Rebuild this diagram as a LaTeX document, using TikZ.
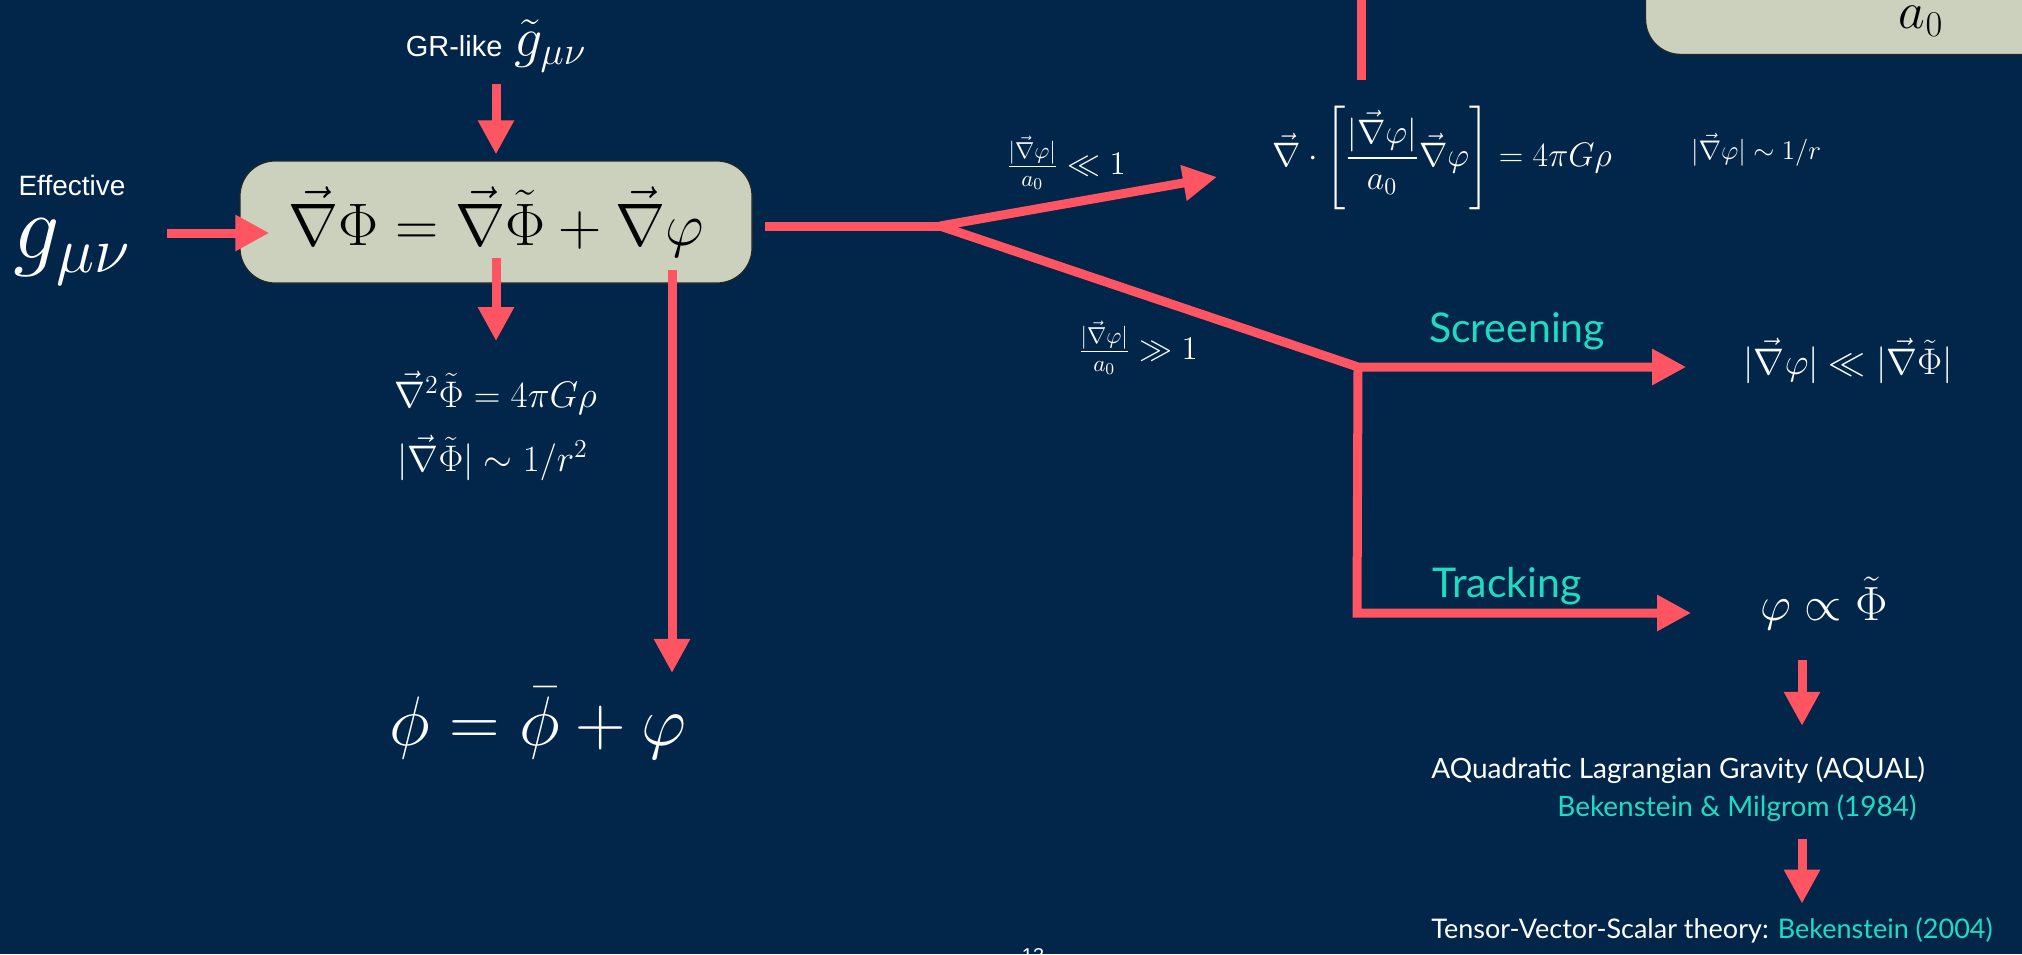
\documentclass[tikz,border=0pt]{standalone}
\usepackage{fix-cm}
\usepackage{amsmath}
\usepackage{fontspec}
\usetikzlibrary{arrows.meta,positioning}
\newfontfamily\helv{Liberation Sans}
\newfontfamily\avnx{Lato}
\definecolor{slidebg}{RGB}{1,38,73}
\definecolor{coral}{RGB}{255,85,98}
\definecolor{sage}{RGB}{204,209,190}
\definecolor{aqua}{RGB}{30,220,195}
\newcommand{\fs}[1]{\fontsize{#1}{#1}\selectfont}

\begin{document}
\begin{tikzpicture}[x=0.5pt,y=-0.5pt,
 arr/.style={draw=coral,line width=4.5pt,-{Triangle[length=17pt,width=17pt]}},
 wire/.style={draw=coral,line width=4.5pt},
 eq/.style={text=white,inner sep=2pt},
 lbl/.style={text=aqua,font=\avnx\fs{20.5pt},inner sep=2pt},
 ref/.style={text=white,font=\avnx\fs{14pt},inner sep=2pt},
 box/.style={draw=black!85,line width=0.6pt,fill=sage,rounded corners=17.5pt}]
\fill[slidebg] (0,0) rectangle (2022,954);
\useasboundingbox (0,0) rectangle (2022,954);
\clip (0,0) rectangle (2022,954);
% left part
\node[box,minimum width=256pt,minimum height=61pt,font=\fs{30pt}] (main) at (496,222)
 {$\vec\nabla\Phi=\vec\nabla\tilde\Phi+\vec\nabla\varphi$};
\node[eq,font=\fs{46pt}] (gmn) at (72,252) {$g_{\mu\nu}$};
\node[text=white,font=\helv\fs{14pt},inner sep=2pt,above=7pt of gmn] (eff) {Effective};
\node[eq] (grlike) at (496,46) {{\helv\fs{14.5pt}GR-like}\hspace{6pt}{\fs{28pt}$\tilde g_{\mu\nu}$}};
\node[eq,font=\fs{18.5pt},anchor=west] (poisson) at (390,393) {$\vec\nabla^2\tilde\Phi=4\pi G\rho$};
\node[eq,font=\fs{18.5pt},anchor=west] (newton) at (393,458) {$|\vec\nabla\tilde\Phi|\sim 1/r^2$};
\node[eq,font=\fs{35pt}] (phieq) at (538,723) {$\phi=\bar\phi+\varphi$};
\coordinate (inL) at ([shift={(30,11)}]main.west);
\coordinate (phidn) at ([shift={(176,-14)}]main.south);
\draw[arr,shorten <=3.5pt,shorten >=3pt] (grlike.south -| main.north) -- (main.north);
\draw[arr,shorten <=16pt] (gmn.east |- inL) -- (inL);
\draw[arr,shorten >=13pt] ([shift={(0,-26)}]main.south) -- (main.south |- poisson.north);
\draw[arr,shorten >=5pt] (phidn) -- (phidn |- phieq.north);
% right part
\node[box,anchor=south west,minimum width=250pt,minimum height=100pt] (lawbox) at (1645,55) {};
\node[font=\fs{26pt},inner sep=0pt] (azero) at (1921,21) {$a_0$};
\node[eq,font=\fs{17pt}] (diveq) at (1442,158)
 {$\vec\nabla\cdot\left[\dfrac{|\vec\nabla\varphi|}{a_0}\vec\nabla\varphi\right]=4\pi G\rho$};
\node[eq,font=\fs{13.5pt}] (deep) at (1756,150) {$|\vec\nabla\varphi|\sim 1/r$};
\node[eq,font=\fs{16.5pt}] (low) at (1066,163) {$\frac{|\vec\nabla\varphi|}{a_0}\ll 1$};
\node[eq,font=\fs{16.5pt}] (high) at (1138,348) {$\frac{|\vec\nabla\varphi|}{a_0}\gg 1$};
\node[lbl,anchor=base] (scrlbl) at (1517,342) {Screening};
\node[lbl,anchor=base] (trklbl) at (1507,597) {Tracking};
\node[eq,font=\fs{18.5pt}] (scrres) at (1848,361) {$|\vec\nabla\varphi|\ll|\vec\nabla\tilde\Phi|$};
\node[eq,font=\fs{24pt}] (propto) at (1824,603) {$\varphi\propto\tilde\Phi$};
\node[ref,anchor=base west] (aqual) at (1427,778) {AQuadratic Lagrangian Gravity (AQUAL)};
\node[ref,text=aqua,anchor=base east] (bm) at (1921,816) {Bekenstein \& Milgrom (1984)};
\node[ref,font=\avnx\fs{13.5pt},anchor=base west] (teves) at (1427,938) {Tensor-Vector-Scalar theory: \textcolor{aqua}{Bekenstein (2004)}};
\node[text=white,font=\helv\fs{10pt},anchor=north] (pnum) at (1033,941) {13};
\coordinate (topin) at (1361,-20);
\coordinate (fork) at (940,226);
\coordinate (junc) at (1358,367);
\coordinate (uptip) at (1217,177);
\coordinate (trk) at (1357,613);
\coordinate (ax) at (1802,0);
\draw[wire,shorten >=11pt] (topin) -- (diveq.north -| topin);
\draw[wire] ([shift={(12,4)}]main.east) -- (fork);
\draw[arr] (fork) -- (uptip);
\draw[arr,shorten >=26.5pt] (fork) -- (junc) -- (scrres.west |- junc);
\draw[arr,shorten >=32.5pt] (junc) -- (trk) -- (propto.west |- trk);
\draw[arr,shorten <=13pt,shorten >=13pt] (propto.south -| ax) -- (aqual.north -| ax);
\draw[arr,shorten <=6.5pt,shorten >=4.5pt] (bm.south -| ax) -- (teves.north -| ax);
\end{tikzpicture}
\end{document}
